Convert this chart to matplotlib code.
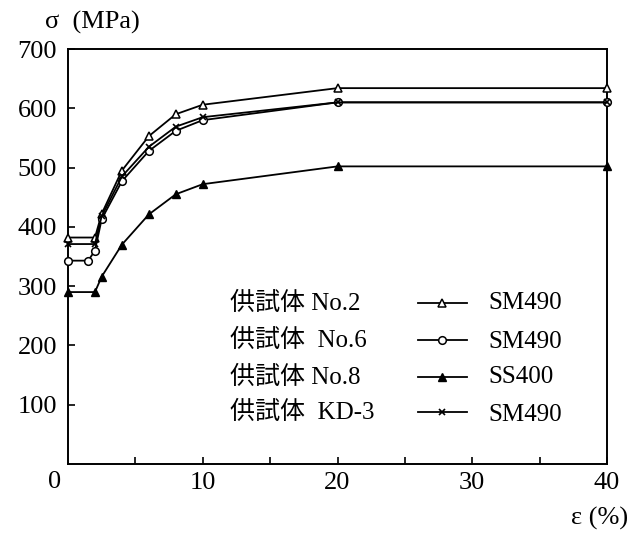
import matplotlib
matplotlib.use("Agg")
import matplotlib.pyplot as plt
from matplotlib.lines import Line2D

plt.rcParams['font.family'] = ['Liberation Serif', 'Noto Sans CJK JP', 'DejaVu Sans']

# ---- data (strain %, stress MPa) ----
eps_no2 = [0, 2, 2.5, 4, 6, 8, 10, 20, 40]
sig_no2 = [382, 382, 422, 495, 553, 590, 606, 634, 634]

eps_no6 = [0, 1.5, 2, 2.5, 4, 6, 8, 10, 20, 40]
sig_no6 = [343, 343, 360, 413, 477, 528, 562, 580, 610, 610]

eps_no8 = [0, 2, 2.5, 4, 6, 8, 10, 20, 40]
sig_no8 = [290, 290, 316, 370, 421, 455, 472, 502, 502]

eps_kd3 = [0, 2, 2.5, 4, 6, 8, 10, 20, 40]
sig_kd3 = [371, 371, 418, 485, 535, 569, 585, 610, 610]

specimens = ['供試体 No.2', '供試体  No.6', '供試体 No.8', '供試体  KD-3']
materials = ['SM490', 'SM490', 'SS400', 'SM490']

x_ticks = [10, 20, 30, 40]
x_minor = [5, 15, 25, 35]
y_ticks = [100, 200, 300, 400, 500, 600, 700]

fig = plt.figure(figsize=(6.31, 5.35), dpi=100)
ax = fig.add_axes([68/631, (535-464)/535, 539/631, 415/535])

styles = [
    dict(marker='^', mfc='white', mec='black', ms=5.5, mew=1.1),
    dict(marker='o', mfc='white', mec='black', ms=5.5, mew=1.1),
    dict(marker='^', mfc='black', mec='black', ms=5.5, mew=1.0),
    dict(marker='x', mfc='black', mec='black', ms=5, mew=1.2),
]
series = [(eps_no2, sig_no2), (eps_no6, sig_no6), (eps_no8, sig_no8), (eps_kd3, sig_kd3)]
for (e, s), st in zip(series, styles):
    ax.plot(e, s, color='black', lw=1.3, clip_on=False, zorder=3, **st)

ax.set_xlim(0, 40)
ax.set_ylim(0, 700)
for sp in ax.spines.values():
    sp.set_linewidth(1.4)

ax.set_xticks(x_ticks)
ax.set_xticks(x_minor, minor=True)
ax.set_yticks(y_ticks)
ax.tick_params(axis='both', which='both', direction='in', length=5, width=1.2,
               labelsize=19)
ax.tick_params(axis='x', which='major', pad=6)
ax.tick_params(axis='y', which='major', pad=8)
ax.set_xticklabels([str(v) for v in x_ticks])
ax.set_yticklabels([str(v) for v in y_ticks])

# origin label
fig.text(55/631, 1-482/535, '0', fontsize=19, ha='center', va='center')
# axis labels
fig.text(45/631, 1-22/535, 'σ  (MPa)', fontsize=19, ha='left', va='center')
fig.text(628/631, 1-518/535, 'ε (%)', fontsize=19, ha='right', va='center')

# legend drawn manually
row_y = [303, 340, 377, 412]
mat_y = [303, 342, 377, 415]
for i in range(4):
    fy = (464 - row_y[i]) / 415
    fm = (464 - mat_y[i]) / 415
    ax.text((230-68)/539, fy, specimens[i], transform=ax.transAxes,
            fontsize=18, ha='left', va='center')
    ax.add_line(Line2D([(418-68)/539, (467-68)/539], [fy, fy],
                       transform=ax.transAxes, color='black', lw=1.3))
    st = dict(styles[i])
    ax.add_line(Line2D([(442-68)/539], [fy], transform=ax.transAxes,
                       color='black', lw=0, **st))
    ax.text((488-68)/539, fm, materials[i], transform=ax.transAxes,
            fontsize=18, ha='left', va='center')

fig.savefig('out.png', dpi=100)
